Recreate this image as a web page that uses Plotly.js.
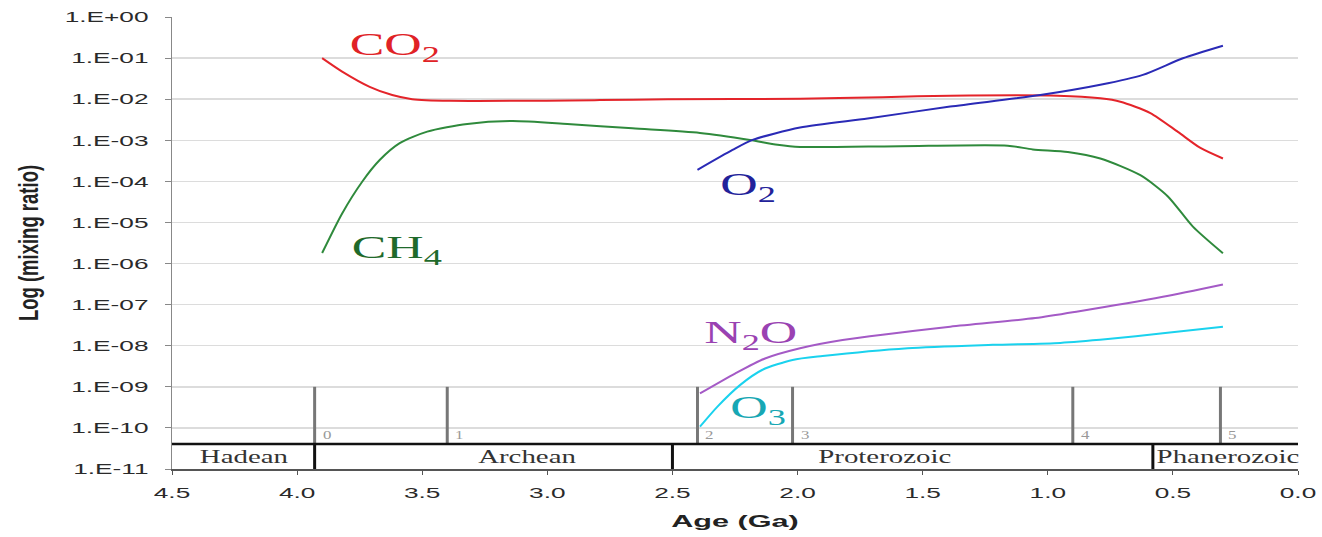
<!DOCTYPE html>
<html>
<head>
<meta charset="utf-8">
<script src="https://cdn.plot.ly/plotly-3.0.1.min.js"></script>
<style>
  html, body { margin: 0; padding: 0; background: #fff; }
  #chart { width: 1322px; height: 537px; }
</style>
</head>
<body>
<div id="chart"></div>
<script>
// ---------------- data ----------------
const co2Age = [3.90, 3.82, 3.71, 3.62, 3.54, 3.39, 2.79, 2.52, 1.99, 1.66, 1.39, 0.96, 0.79, 0.71, 0.59, 0.48, 0.39, 0.30];
const co2Val = [1.0e-1, 4.7e-2, 2.0e-2, 1.26e-2, 1.0e-2, 9.1e-3, 9.5e-3, 1.0e-2, 1.02e-2, 1.12e-2, 1.22e-2, 1.22e-2, 1.05e-2, 8.7e-3, 4.6e-3, 1.6e-3, 6.5e-4, 3.6e-4];

const ch4Age = [3.90, 3.82, 3.74, 3.67, 3.59, 3.48, 3.32, 3.14, 2.92, 2.66, 2.39, 2.19, 2.08, 1.99, 1.59, 1.16, 1.06, 0.92, 0.79, 0.63, 0.52, 0.42, 0.30];
const ch4Val = [1.8e-6, 1.66e-5, 9.8e-5, 3.3e-4, 8.5e-4, 1.62e-3, 2.5e-3, 2.95e-3, 2.5e-3, 1.95e-3, 1.51e-3, 1.02e-3, 7.8e-4, 6.9e-4, 7.2e-4, 7.4e-4, 6.0e-4, 5.2e-4, 3.6e-4, 1.41e-4, 4.3e-5, 7.9e-6, 1.78e-6];

const o2Age = [2.40, 2.26, 2.18, 1.99, 1.72, 1.39, 1.03, 0.79, 0.62, 0.46, 0.30];
const o2Val = [1.9e-4, 5.8e-4, 1.02e-3, 2.04e-3, 3.4e-3, 6.6e-3, 1.26e-2, 2.24e-2, 3.9e-2, 9.9e-2, 2.0e-1];

const n2oAge = [2.39, 2.25, 2.13, 1.99, 1.82, 1.39, 1.05, 0.88, 0.54, 0.30];
const n2oVal = [6.9e-10, 2.1e-9, 4.9e-9, 8.7e-9, 1.38e-8, 2.9e-8, 4.7e-8, 6.8e-8, 1.55e-7, 3.1e-7];

const o3Age = [2.39, 2.32, 2.23, 2.14, 2.02, 1.90, 1.56, 1.22, 0.95, 0.76, 0.54, 0.30];
const o3Val = [1.07e-10, 3.3e-10, 1.1e-9, 2.6e-9, 4.5e-9, 5.6e-9, 8.7e-9, 1.05e-8, 1.17e-8, 1.45e-8, 2.0e-8, 2.9e-8];

const xTickVals = [4.5, 4.0, 3.5, 3.0, 2.5, 2.0, 1.5, 1.0, 0.5, 0.0];
const xTickText = ['4.5', '4.0', '3.5', '3.0', '2.5', '2.0', '1.5', '1.0', '0.5', '0.0'];
const yTickVals = [1e0, 1e-1, 1e-2, 1e-3, 1e-4, 1e-5, 1e-6, 1e-7, 1e-8, 1e-9, 1e-10, 1e-11];
const yTickText = ['1.E+00', '1.E-01', '1.E-02', '1.E-03', '1.E-04', '1.E-05', '1.E-06', '1.E-07', '1.E-08', '1.E-09', '1.E-10', '1.E-11'];

const eonNames = ['Hadean', 'Archean', 'Proterozoic', 'Phanerozoic'];
const eonBounds = [4.5, 3.93, 2.50, 0.58, 0.0];
const stageAges = [3.93, 3.40, 2.40, 2.02, 0.90, 0.31];
const stageLabels = ['0', '1', '2', '3', '4', '5'];

// ---------------- layout helpers ----------------
const eonLabelX = [4.21, 3.08, 1.65, 0.28];
const barTopLog = -10.39;            // eon bar top line (log10)
const barTopVal = Math.pow(10, barTopLog);
const stageTopVal = 1e-9;
const yBottomVal = 1e-11;

const series = [
  {x: co2Age, y: co2Val, color: '#e4242a'},
  {x: ch4Age, y: ch4Val, color: '#2f8a3c'},
  {x: o2Age,  y: o2Val,  color: '#2a2ab6'},
  {x: n2oAge, y: n2oVal, color: '#a45ac6'},
  {x: o3Age,  y: o3Val,  color: '#1ad2ee'}
];
const traces = series.map(s => ({
  x: s.x, y: s.y, type: 'scatter', mode: 'lines',
  line: {color: s.color, width: 2, shape: 'spline', smoothing: 0.7},
  hoverinfo: 'skip', showlegend: false
}));

const serif = 'Liberation Serif, Times New Roman, serif';
const sans = 'Liberation Sans, Arial, sans-serif';
const curveLabels = [
  {x: 3.61, y: -0.72, text: 'CO<sub>2</sub>', color: '#e02226'},
  {x: 3.60, y: -5.67, text: 'CH<sub>4</sub>', color: '#1f6a2b'},
  {x: 2.20, y: -4.12, text: 'O<sub>2</sub>', color: '#22229a'},
  {x: 2.19, y: -7.72, text: 'N<sub>2</sub>O', color: '#9a42b2'},
  {x: 2.16, y: -9.55, text: 'O<sub>3</sub>', color: '#17a7b4'}
];

const annotations = [];
curveLabels.forEach(c => annotations.push({
  x: c.x, y: c.y, xref: 'x', yref: 'y', text: c.text, showarrow: false,
  xanchor: 'center', yanchor: 'middle',
  font: {family: serif, size: 32, color: c.color}
}));
eonNames.forEach((n, i) => annotations.push({
  x: eonLabelX[i], y: -10.70, xref: 'x', yref: 'y', text: n, showarrow: false,
  xanchor: 'center', yanchor: 'middle',
  font: {family: serif, size: 19, color: '#333'}
}));
stageLabels.forEach((s, i) => annotations.push({
  x: stageAges[i], y: -10.15, xref: 'x', yref: 'y', text: s, showarrow: false,
  xanchor: 'left', yanchor: 'middle', xshift: 6,
  font: {family: serif, size: 13, color: '#999'}
}));

const shapes = [];
stageAges.forEach(a => shapes.push({
  type: 'line', xref: 'x', yref: 'y', x0: a, x1: a, y0: stageTopVal, y1: barTopVal,
  line: {color: '#777', width: 3}
}));
shapes.push({
  type: 'line', xref: 'x', yref: 'y', x0: eonBounds[0], x1: eonBounds[eonBounds.length - 1],
  y0: barTopVal, y1: barTopVal, line: {color: '#111', width: 2.5}
});
eonBounds.slice(1, -1).forEach(a => shapes.push({
  type: 'line', xref: 'x', yref: 'y', x0: a, x1: a, y0: barTopVal, y1: yBottomVal,
  line: {color: '#111', width: 3}
}));

const layout = {
  width: 1322, height: 537,
  margin: {l: 172, r: 24, t: 17, b: 68},
  paper_bgcolor: '#fff', plot_bgcolor: '#fff',
  showlegend: false,
  xaxis: {
    range: [4.5, 0], tickvals: xTickVals, ticktext: xTickText,
    showgrid: false, zeroline: false, showline: true, linecolor: '#555', linewidth: 1.5,
    ticks: 'outside', ticklen: 4, tickcolor: '#555', ticklabelstandoff: 6,
    tickfont: {family: sans, size: 15, color: '#2a2a2a'},
    title: {text: 'Age (Ga)', font: {family: sans, size: 17, color: '#222', weight: 'bold'}, standoff: 14},
    automargin: false, fixedrange: true
  },
  yaxis: {
    type: 'log', range: [-11, 0], tickvals: yTickVals, ticktext: yTickText,
    showgrid: true, gridcolor: '#dcdcdc', gridwidth: 1.5,
    zeroline: false, showline: true, linecolor: '#888', linewidth: 1.5,
    ticks: 'outside', ticklen: 6, tickcolor: '#888', ticklabelstandoff: 13,
    tickfont: {family: sans, size: 15, color: '#2a2a2a'},
    title: {text: 'Log (mixing ratio)', font: {family: sans, size: 18.5, color: '#222', weight: 'bold'}, standoff: 24},
    automargin: false, fixedrange: true
  },
  annotations: annotations,
  shapes: shapes
};

// the reference artwork is horizontally stretched; widen glyphs to match
function stretch(el, s, anchor) {
  const bb = el.getBBox();
  let ax = bb.x + bb.width / 2;
  if (anchor === 'end') ax = bb.x + bb.width;
  if (anchor === 'start') ax = bb.x;
  const prev = el.getAttribute('transform') || '';
  el.setAttribute('transform', prev + ' translate(' + ax + ' 0) scale(' + s + ' 1) translate(' + (-ax) + ' 0)');
}
// stretch in screen-x (for the rotated y title) and place its centre at targetX
function stretchScreen(el, s, targetX) {
  const svgRect = el.ownerSVGElement.getBoundingClientRect();
  const r = el.getBoundingClientRect();
  const cx = r.left + r.width / 2 - svgRect.left;
  const prev = el.getAttribute('transform') || '';
  el.setAttribute('transform', 'translate(' + targetX + ' 0) scale(' + s + ' 1) translate(' + (-cx) + ' 0) ' + prev);
}

Plotly.newPlot('chart', traces, layout, {displayModeBar: false, staticPlot: true}).then(() => {
  document.querySelectorAll('g.ytick text').forEach(t => stretch(t, 1.75, 'end'));
  document.querySelectorAll('g.xtick text').forEach(t => stretch(t, 1.75, 'middle'));
  document.querySelectorAll('text.xtitle').forEach(t => stretch(t, 1.8, 'middle'));
  document.querySelectorAll('text.ytitle').forEach(t => stretchScreen(t, 1.5, 28));
  document.querySelectorAll('g.annotation').forEach(g => {
    const i = parseInt(g.getAttribute('data-index'), 10);
    const t = g.querySelector('text');
    if (!t) return;
    if (i < 5) stretch(t, 1.62, 'middle');
    else if (i < 9) stretch(t, 1.52, 'middle');
    else stretch(t, 1.3, 'start');
  });
});
</script>
</body>
</html>
